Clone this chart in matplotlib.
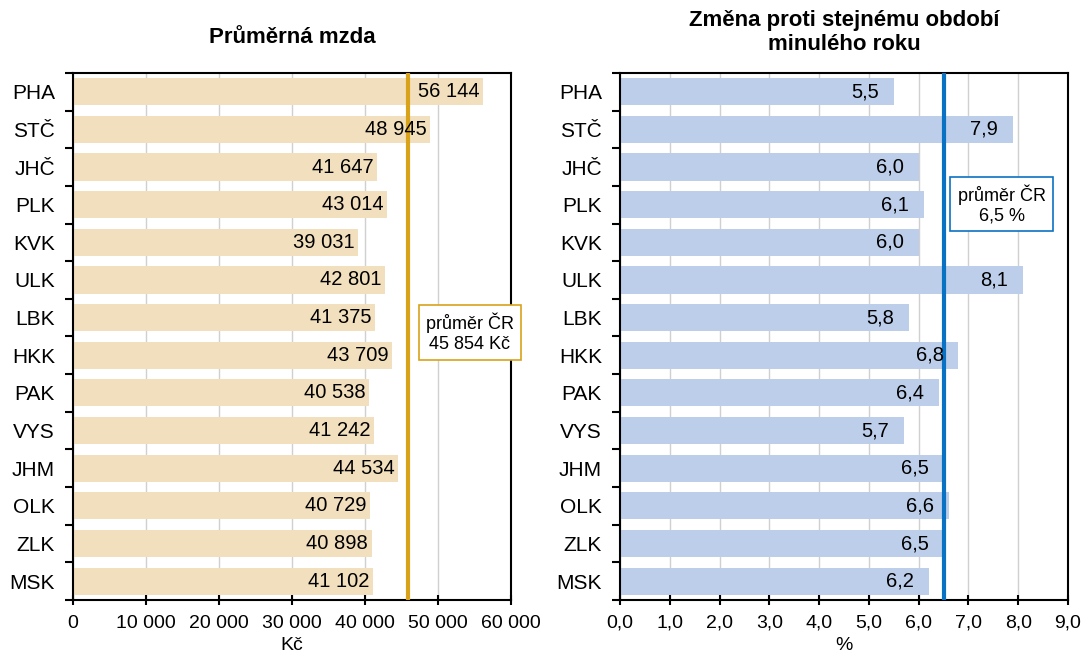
import numpy as np
import matplotlib.pyplot as plt
from matplotlib.ticker import FuncFormatter, FixedLocator

plt.rcParams['font.family'] = ['Liberation Sans', 'DejaVu Sans']

# -------------------------
# DATA
# -------------------------
regions = ["PHA", "STČ", "JHČ", "PLK", "KVK", "ULK", "LBK",
           "HKK", "PAK", "VYS", "JHM", "OLK", "ZLK", "MSK"]
wages = [56144, 48945, 41647, 43014, 39031, 42801, 41375,
         43709, 40538, 41242, 44534, 40729, 40898, 41102]
change = [5.5, 7.9, 6.0, 6.1, 6.0, 8.1, 5.8,
          6.8, 6.4, 5.7, 6.5, 6.6, 6.5, 6.2]
wage_avg = 45854
change_avg = 6.5

WAGE_COL = "#F2DFBD"
CHANGE_COL = "#BDCEEA"
WAGE_LINE = "#D9A21B"
CHANGE_LINE = "#0A72C2"


def fmt_thousands(v):
    return f"{int(round(v)):,}".replace(",", " ")


def fmt_comma(v):
    return f"{v:.1f}".replace(".", ",")


fig = plt.figure(figsize=(10.86, 6.57), dpi=100)
ax1 = fig.add_axes([0.0672, 0.0868, 0.4033, 0.8022])
ax2 = fig.add_axes([0.5709, 0.0868, 0.4125, 0.8022])

y = np.arange(len(regions))


def setup(ax, vals, color, xmax, xstep, tickfmt, avg, line_col):
    ax.barh(y, vals, height=0.72, color=color, zorder=2)
    ax.set_ylim(len(regions) - 0.5, -0.5)
    ax.set_xlim(0, xmax)
    ax.set_xticks(np.arange(0, xmax + xstep / 2, xstep))
    ax.xaxis.set_major_formatter(FuncFormatter(lambda v, p: tickfmt(v)))
    ax.grid(axis="x", color="#D0D0D0", lw=1, zorder=0)
    ax.set_yticks(y)
    ax.set_yticklabels(regions, fontsize=15)
    ax.tick_params(axis="y", length=0, pad=13)
    ax.yaxis.set_minor_locator(FixedLocator(np.arange(-0.5, len(regions), 1)))
    ax.tick_params(axis="y", which="minor", length=6, width=1.5, direction="out")
    ax.tick_params(axis="x", length=7, width=1.5, direction="inout", labelsize=14, pad=7)
    for s in ax.spines.values():
        s.set_linewidth(1.5)
    ax.axvline(avg, color=line_col, lw=3, zorder=3)


setup(ax1, wages, WAGE_COL, 60000, 10000, fmt_thousands, wage_avg, WAGE_LINE)
setup(ax2, change, CHANGE_COL, 9.0, 1.0, fmt_comma, change_avg, CHANGE_LINE)

for yi, v in zip(y, wages):
    ax1.text(v - 500, yi, fmt_thousands(v), ha="right", va="center", fontsize=14.5, zorder=4)
for yi, v in zip(y, change):
    ax2.text(v - 0.3, yi, fmt_comma(v), ha="right", va="center", fontsize=14.5, zorder=4)

ax1.set_xlabel("Kč", fontsize=14, labelpad=4)
ax2.set_xlabel("%", fontsize=14, labelpad=4)

ax1.text(0.5, 1.068, "Průměrná mzda", transform=ax1.transAxes, ha="center",
         va="center", fontsize=16, fontweight="bold")
ax2.text(0.5, 1.077, "Změna proti stejnému období\nminulého roku", transform=ax2.transAxes,
         ha="center", va="center", fontsize=16, fontweight="bold", linespacing=1.15)

ax1.text(0.906, 0.507, "průměr ČR\n" + fmt_thousands(wage_avg) + " Kč", transform=ax1.transAxes,
         ha="center", va="center", fontsize=13, zorder=5, clip_on=False, linespacing=1.2,
         bbox=dict(boxstyle="square,pad=0.4", fc="white", ec=WAGE_LINE, lw=1.2))
ax2.text(0.852, 0.751, "průměr ČR\n" + fmt_comma(change_avg) + " %", transform=ax2.transAxes,
         ha="center", va="center", fontsize=13, zorder=5, clip_on=False, linespacing=1.2,
         bbox=dict(boxstyle="square,pad=0.4", fc="white", ec=CHANGE_LINE, lw=1.2))

fig.savefig("out.png", dpi=100)
